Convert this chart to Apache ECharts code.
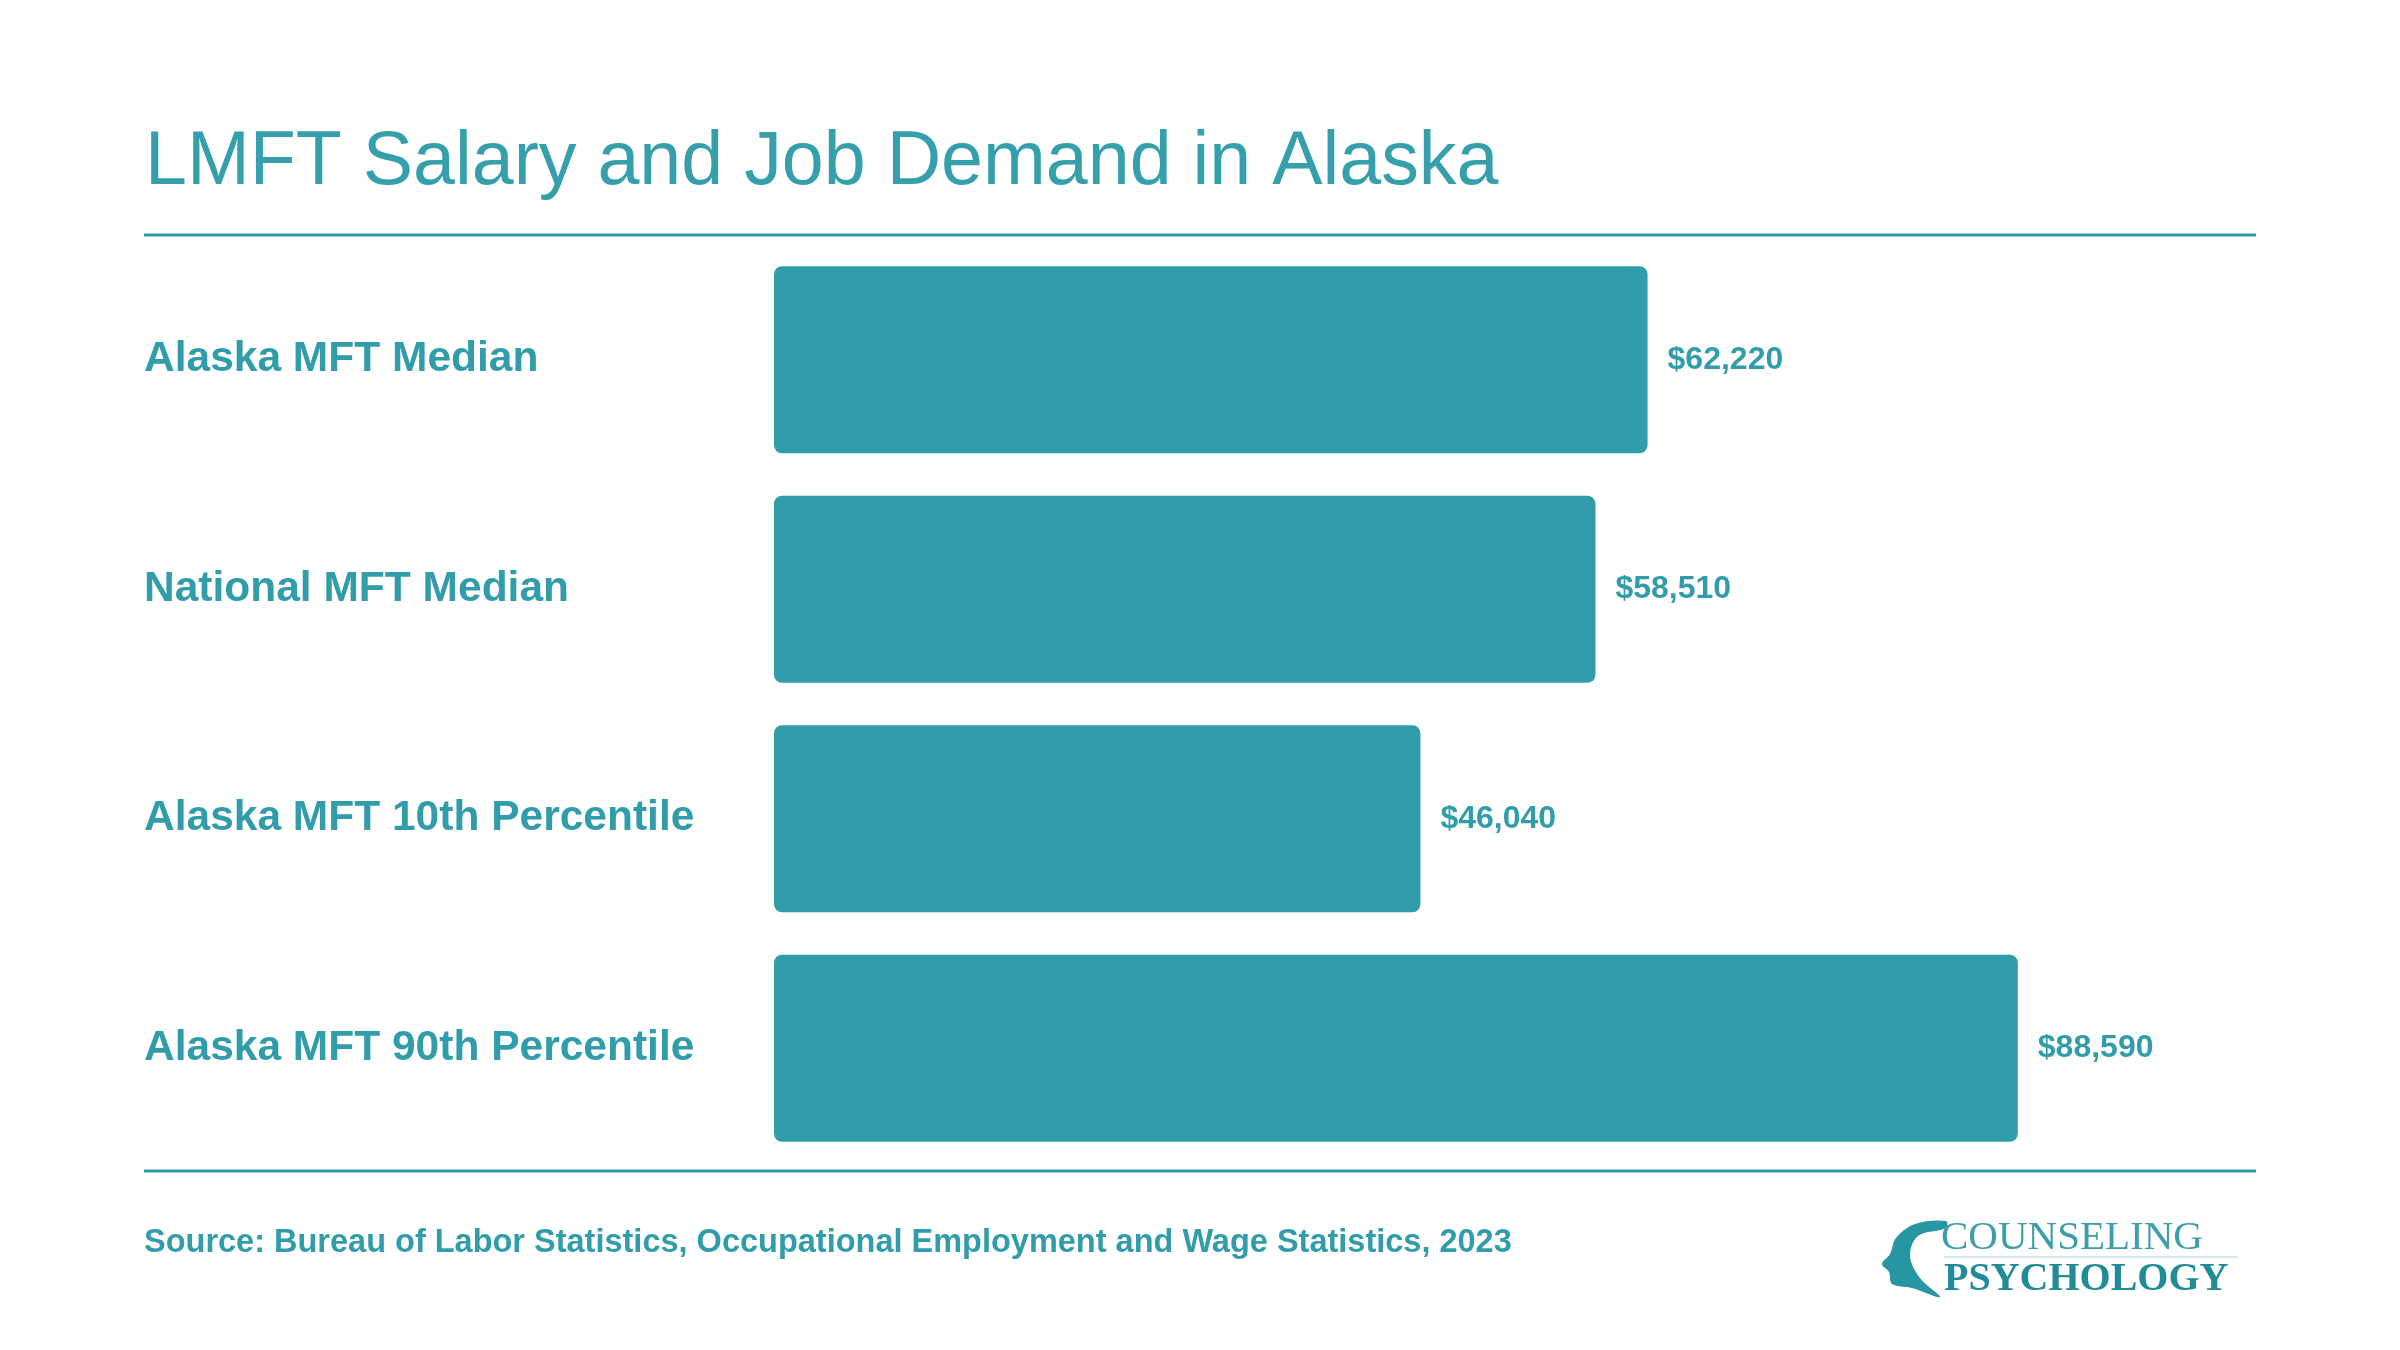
<!DOCTYPE html>
<html>
<head>
<meta charset="utf-8">
<title>LMFT Salary and Job Demand in Alaska</title>
<script src="https://cdn.jsdelivr.net/npm/echarts@6/dist/echarts.min.js"></script>
<style>
  html, body { margin: 0; padding: 0; background: #fff; }
  #chart { width: 2400px; height: 1350px; }
</style>
</head>
<body>
<div id="chart"></div>
<script>
// data
const categories = [
  'Alaska MFT Median',
  'National MFT Median',
  'Alaska MFT 10th Percentile',
  'Alaska MFT 90th Percentile'
];
const salaries = [62220, 58510, 46040, 88590];

const teal = '#329DAA';
const font = 'Liberation Sans, Arial, Helvetica, sans-serif';

const chart = echarts.init(document.getElementById('chart'));

const option = {
  backgroundColor: '#ffffff',
  animation: false,
  title: {
    text: 'LMFT Salary and Job Demand in Alaska',
    left: 140,
    top: 121,
    textStyle: {
      color: '#35A0AC',
      fontFamily: font,
      fontWeight: 'normal',
      fontSize: 75.4
    }
  },
  grid: {
    left: 774,
    width: 1404,   // 100000 -> 1404px
    top: 245,
    height: 918
  },
  xAxis: {
    type: 'value',
    min: 0,
    max: 100000,
    show: false
  },
  yAxis: {
    type: 'category',
    data: categories,
    inverse: true,
    axisLine: { show: false },
    axisTick: { show: false },
    splitLine: { show: false },
    axisLabel: {
      align: 'left',
      margin: 630, // labels start at x=144
      padding: [8, 0, 0, 0],
      color: teal,
      fontFamily: font,
      fontWeight: 'bold',
      fontSize: 42.5
    }
  },
  series: [{
    type: 'bar',
    data: salaries,
    barWidth: 187,
    itemStyle: {
      color: teal,
      borderRadius: 8
    },
    label: {
      show: true,
      position: 'right',
      distance: 20,
      padding: [6, 0, 0, 0],
      color: teal,
      fontFamily: font,
      fontWeight: 'bold',
      fontSize: 32,
      formatter: p => '$' + p.value.toLocaleString('en-US')
    }
  }],
  graphic: [
    // rules above and below the bars
    {
      type: 'line',
      shape: { x1: 144, y1: 235, x2: 2256, y2: 235 },
      style: { stroke: teal, lineWidth: 3 }
    },
    {
      type: 'line',
      shape: { x1: 144, y1: 1171, x2: 2256, y2: 1171 },
      style: { stroke: teal, lineWidth: 3 }
    },
    {
      type: 'text',
      x: 144,
      y: 1243,
      style: {
        text: 'Source: Bureau of Labor Statistics, Occupational Employment and Wage Statistics, 2023',
        fill: teal,
        font: 'bold 32.5px ' + font,
        verticalAlign: 'middle'
      }
    },
    // logo, roughly: head profile + two words
    {
      type: 'polygon',
      shape: {
        smooth: 0.35,
        points: [
          [1946, 1221], [1915, 1224], [1896, 1238], [1890, 1254],
          [1882, 1264], [1889, 1272], [1892, 1284], [1912, 1288],
          [1940, 1297], [1920, 1278], [1910, 1256], [1918, 1236], [1946, 1228]
        ]
      },
      style: { fill: '#2596A2' }
    },
    {
      type: 'text',
      x: 1941,
      y: 1238,
      style: {
        text: 'COUNSELING',
        fill: '#3D9EA9',
        font: '41px Liberation Serif, DejaVu Serif, serif',
        verticalAlign: 'middle'
      }
    },
    {
      type: 'line',
      shape: { x1: 1944, y1: 1257, x2: 2238, y2: 1257 },
      style: { stroke: '#CFE7EA', lineWidth: 2 }
    },
    {
      type: 'text',
      x: 1944,
      y: 1280,
      style: {
        text: 'PSYCHOLOGY',
        fill: '#1F8C97',
        font: 'bold 40px Liberation Serif, DejaVu Serif, serif',
        verticalAlign: 'middle'
      }
    }
  ]
};

chart.setOption(option);
</script>
</body>
</html>
